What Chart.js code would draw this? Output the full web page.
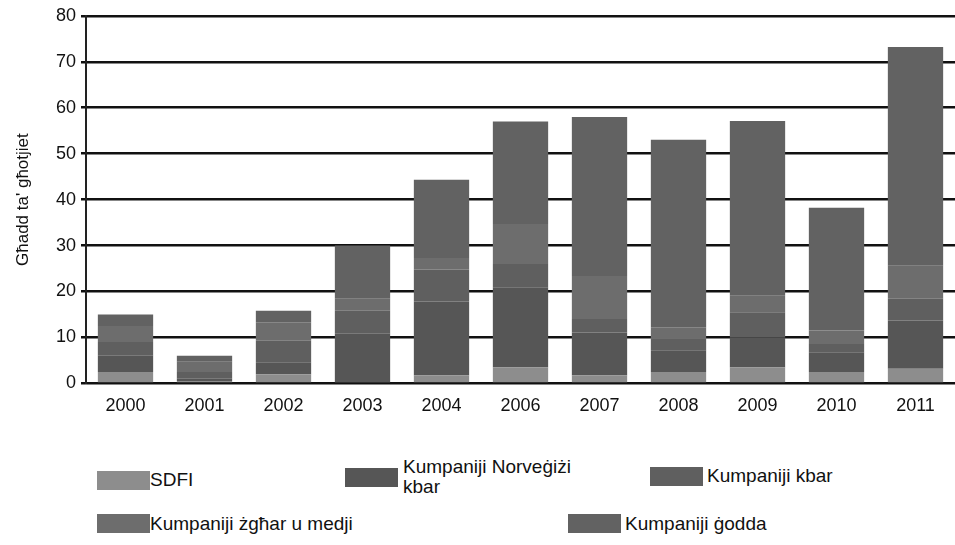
<!DOCTYPE html>
<html>
<head>
<meta charset="utf-8">
<script src="https://cdn.jsdelivr.net/npm/chart.js@4"></script>
<style>
  body { margin:0; background:#fff; font-family:"Liberation Sans",Arial,sans-serif; }
  #wrap { position:relative; width:955px; height:545px; }
  #box { position:absolute; left:0; top:0; width:955px; height:421px; }
  .leg { position:absolute; font-size:19px; color:#111; line-height:20px; }
  .sw { position:absolute; width:53px; height:19px; }
</style>
</head>
<body>
<div id="wrap">
  <div id="box"><canvas id="myChart"></canvas></div>
  <div id="legend"></div>
</div>
<script>
// years on the x axis
var years=["2000","2001","2002","2003","2004","2006","2007","2008","2009","2010","2011"];

// awards per company group, bottom of the stack first
var sdfi=     [2.5, 0.5, 2.0, 0.3, 1.8, 3.5, 1.8, 2.5, 3.5, 2.5, 3.2];
var norwBig=  [3.5, 0.5, 2.6,10.5,16.0,17.4, 9.3, 4.7, 6.5, 4.3,10.5];
var big=      [3.0, 1.5, 4.7, 5.0, 7.0, 5.1, 2.9, 2.5, 5.5, 1.8, 4.7];
var smallMed= [3.5, 2.2, 4.0, 2.6, 2.5, 8.7, 9.4, 2.5, 3.6, 2.9, 7.2];
var newComp=  [2.5, 1.3, 2.5,11.6,17.0,22.3,34.6,40.8,38.0,26.7,47.6];

var yTicks=[0,10,20,30,40,50,60,70,80];

var names=["SDFI","Kumpaniji Norveġiżi kbar","Kumpaniji kbar","Kumpaniji żgħar u medji","Kumpaniji ġodda"];
var colors=["#8d8d8d","#565656","#5f5f5f","#6d6d6d","#626262"];

var font="'Liberation Sans',Arial,sans-serif";

var series=[sdfi,norwBig,big,smallMed,newComp];
var datasets=[];
for(var i=0;i<series.length;i++){
  datasets.push({
    label:names[i],
    data:series[i],
    backgroundColor:colors[i],
    borderWidth:0,
    barPercentage:0.7,
    categoryPercentage:1.0
  });
}

var ctx=document.getElementById("myChart").getContext("2d");
var chart=new Chart(ctx,{
  type:"bar",
  data:{labels:years,datasets:datasets},
  options:{
    responsive:true,
    maintainAspectRatio:false,
    animation:false,
    layout:{padding:{top:4,right:0,left:9,bottom:0}},
    plugins:{legend:{display:false},tooltip:{enabled:false}},
    scales:{
      x:{
        stacked:true,
        grid:{display:false},
        border:{display:false},
        ticks:{color:"#111",font:{family:font,size:18},padding:4}
      },
      y:{
        stacked:true,
        min:0,max:80,
        afterBuildTicks:function(ax){ ax.ticks=yTicks.map(function(v){return {value:v};}); },
        afterFit:function(ax){ ax.width=77; },
        grid:{color:"#111",lineWidth:2.5,tickLength:5},
        border:{display:true,color:"#222",width:2},
        ticks:{color:"#111",font:{family:font,size:18},padding:5},
        title:{display:true,text:"Għadd ta' għotjiet",color:"#111",font:{family:font,size:17},padding:{bottom:14}}
      }
    }
  }
});

// legend laid out like the original figure
var legendPos=[
  {x:97,y:471,tx:150,ty:470},
  {x:345,y:468,tx:403,ty:457,lines:["Kumpaniji Norveġiżi","kbar"]},
  {x:650,y:467,tx:707,ty:466},
  {x:97,y:514,tx:150,ty:514},
  {x:568,y:514,tx:625,ty:514}
];
var leg=document.getElementById("legend");
for(var j=0;j<names.length;j++){
  var p=legendPos[j];
  var sw=document.createElement("div");
  sw.className="sw";
  sw.style.left=p.x+"px"; sw.style.top=p.y+"px";
  sw.style.background=colors[j];
  leg.appendChild(sw);
  var t=document.createElement("div");
  t.className="leg";
  t.style.left=p.tx+"px"; t.style.top=p.ty+"px";
  t.innerHTML=p.lines ? p.lines.join("<br>") : names[j];
  leg.appendChild(t);
}
</script>
</body>
</html>
